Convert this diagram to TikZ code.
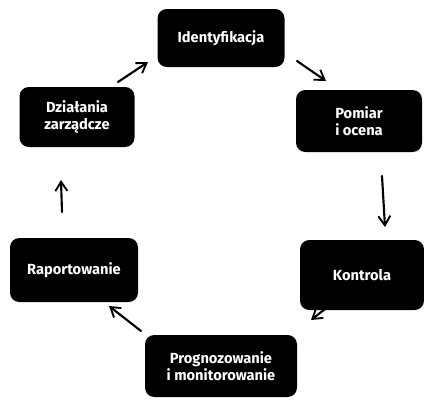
\documentclass[tikz,border=0pt]{standalone}
\usepackage{fontspec}
\setmainfont{Fira Sans}
\usetikzlibrary{arrows.meta}
\tikzset{
  stage/.style={fill=black, rounded corners=7pt, text=white, align=center,
    font=\fontsize{11}{13}\selectfont\bfseries, inner sep=0pt},
  cyc/.style={line width=1.6pt, -{Straight Barb[length=7pt,width=9pt,line width=1.4pt]}, line cap=round}
}
\begin{document}
\begin{tikzpicture}[x=0.75pt,y=-0.75pt]
\useasboundingbox (0,0) rectangle (424,400);
\node[stage, minimum width=127*0.75pt, minimum height=58*0.75pt] (ident) at (221,38) {Identyfikacja};
\node[stage, minimum width=126*0.75pt, minimum height=62*0.75pt] (pomiar) at (359,121) {Pomiar\\ i ocena};
\node[stage, minimum width=124*0.75pt, minimum height=70*0.75pt] (kontr) at (362,275) {Kontrola};
\node[stage, minimum width=152*0.75pt, minimum height=62*0.75pt] (progn) at (221,366) {Prognozowanie\\ i monitorowanie};
\node[stage, minimum width=128*0.75pt, minimum height=64*0.75pt] (rap) at (74,270) {Raportowanie};
\node[stage, minimum width=115*0.75pt, minimum height=60*0.75pt] (dzial) at (77,117) {Działania\\ zarządcze};
\coordinate (a1) at (118,82); \coordinate (b1) at (148,62);
\coordinate (a2) at (297,61); \coordinate (b2) at (326,81);
\coordinate (a3) at (382,176); \coordinate (b3) at (385,227);
\coordinate (a4) at (348,291); \coordinate (b4) at (311,320);
\coordinate (a5) at (141,331); \coordinate (b5) at (109,306);
\coordinate (a6) at (62,212); \coordinate (b6) at (61,180);
\draw[cyc] (a1) -- (b1);
\draw[cyc] (a2) -- (b2);
\draw[cyc] (a3) -- (b3);
\draw[cyc] (a4) -- (b4);
\draw[cyc] (a5) -- (b5);
\draw[cyc] (a6) -- (b6);
\end{tikzpicture}
\end{document}
